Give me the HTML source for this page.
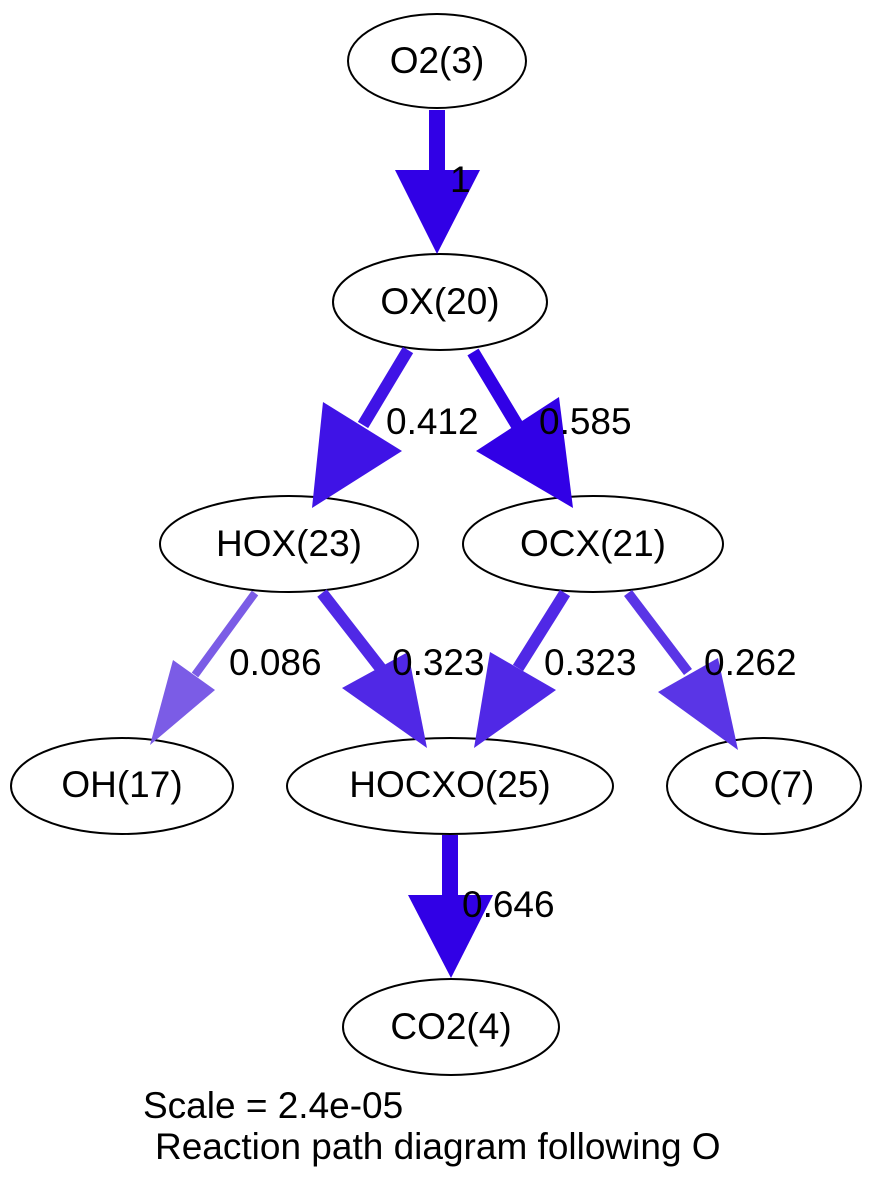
<!DOCTYPE html>
<html><head><style>body{margin:0;background:#fff}svg{display:block}</style></head><body>
<svg width="873" height="1194" xmlns="http://www.w3.org/2000/svg" font-family="Liberation Sans, sans-serif" font-size="37">
<g fill="none" stroke-width="2" stroke="#000">
<ellipse cx="437" cy="61" rx="89" ry="47"/>
<ellipse cx="440" cy="302" rx="107" ry="48"/>
<ellipse cx="289" cy="544" rx="129" ry="48"/>
<ellipse cx="593" cy="544" rx="130" ry="48"/>
<ellipse cx="122" cy="786" rx="111" ry="48"/>
<ellipse cx="450" cy="786" rx="163" ry="48"/>
<ellipse cx="764" cy="786" rx="97" ry="48"/>
<ellipse cx="451" cy="1027" rx="108" ry="48"/>
</g>
<g stroke-linecap="butt">
<line x1="437" y1="110" x2="437" y2="172" stroke="#3100e6" stroke-width="16"/>
<polygon points="395,170 480,170 437,254" fill="#3100e6"/>
<line x1="408" y1="350" x2="363" y2="425" stroke="#3f13e6" stroke-width="12"/>
<polygon points="323,402 402,451 312,508" fill="#3f13e6"/>
<line x1="473" y1="352" x2="517" y2="425" stroke="#3100e6" stroke-width="13"/>
<polygon points="476,451 559,397 573,508" fill="#3100e6"/>
<line x1="255" y1="593" x2="195" y2="675" stroke="#7b5ce6" stroke-width="8"/>
<polygon points="173,660 215,690 150,745" fill="#7b5ce6"/>
<line x1="322" y1="593" x2="382" y2="670" stroke="#5028e6" stroke-width="12"/>
<polygon points="342,688 408,652 427,748" fill="#5028e6"/>
<line x1="565" y1="593" x2="518" y2="668" stroke="#5028e6" stroke-width="12"/>
<polygon points="490,652 556,690 474,748" fill="#5028e6"/>
<line x1="628" y1="593" x2="688" y2="672" stroke="#5a35e6" stroke-width="10"/>
<polygon points="658,692 718,658 738,750" fill="#5a35e6"/>
<line x1="450" y1="835" x2="450" y2="897" stroke="#3100e6" stroke-width="16"/>
<polygon points="408,895 493,895 451,978" fill="#3100e6"/>
</g>
<g fill="#000" text-anchor="middle">
<text x="437" y="73">O2(3)</text>
<text x="440" y="314">OX(20)</text>
<text x="289" y="556">HOX(23)</text>
<text x="593" y="556">OCX(21)</text>
<text x="122" y="797">OH(17)</text>
<text x="450" y="797">HOCXO(25)</text>
<text x="764" y="797">CO(7)</text>
<text x="451" y="1039">CO2(4)</text>
</g>
<g fill="#000">
<text x="450" y="192">1</text>
<text x="386" y="434">0.412</text>
<text x="539" y="434">0.585</text>
<text x="229" y="675">0.086</text>
<text x="392" y="675">0.323</text>
<text x="544" y="675">0.323</text>
<text x="704" y="675">0.262</text>
<text x="462" y="917">0.646</text>
<text x="143" y="1118">Scale = 2.4e-05</text>
<text x="155" y="1159">Reaction path diagram following O</text>
</g>
</svg>
</body></html>
